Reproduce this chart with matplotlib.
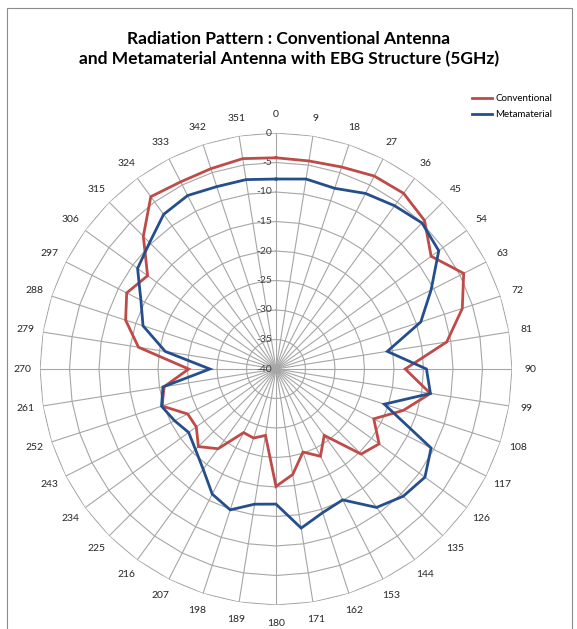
import numpy as np
import matplotlib
matplotlib.use("Agg")
import matplotlib.pyplot as plt
from matplotlib.lines import Line2D
from matplotlib.patches import Rectangle

# ---- data ----
angles_deg = list(range(0, 360, 9))
angle_labels = [str(a) for a in angles_deg]
conventional = [-4.2, -4.3, -4.0, -3.3, -3.2, -4.4, -7.5, -4.3, -6.8, -10.7,
                -18.1, -13.5, -17.3, -21.4, -18.4, -19.6, -26.1, -23.4, -25.2, -21.9,
                -20.1, -28.6, -27.7, -27.9, -23.3, -21.4, -23.3, -23.2, -19.7, -20.8,
                -25.2, -16.4, -13.2, -11.6, -13.1, -8.2, -3.9, -4.4, -4.3, -3.9]
metamaterial = [-7.8, -7.4, -7.8, -6.6, -5.8, -5.0, -5.9, -10.5, -14.2, -20.9,
                -14.5, -13.5, -20.7, -10.5, -8.8, -9.5, -11.0, -15.1, -14.4, -12.7,
                -17.1, -16.8, -14.9, -16.2, -19.0, -20.7, -21.7, -20.7, -19.6, -20.6,
                -28.8, -21.0, -16.3, -14.3, -11.0, -9.7, -7.6, -7.0, -7.5, -7.5]
r_ticks = [0, -5, -10, -15, -20, -25, -30, -35, -40]
series_names = ["Conventional", "Metamaterial"]
title = "Radiation Pattern : Conventional Antenna\nand Metamaterial Antenna with EBG Structure (5GHz)"

W, H = 577, 629
fig = plt.figure(figsize=(W / 100, H / 100), dpi=100)

FONT = ["Lato", "DejaVu Sans"]
grid_c = "#A6A6A6"
red = "#BE4B48"
blue = "#254E8C"

# chart border
fig.add_artist(Rectangle((7 / W, -0.02), (572 - 7) / W, (1 - 8 / H) + 0.02,
                         transform=fig.transFigure, fill=False, ec="#8C8C8C", lw=0.8))

cx, cy, R = 276, 369, 236
ax = fig.add_axes([(cx - R) / W, (H - cy - R) / H, 2 * R / W, 2 * R / H], projection="polar")
ax.set_theta_zero_location("N")
ax.set_theta_direction(-1)
ax.set_ylim(-40, 0)
ax.grid(False)
ax.spines["polar"].set_visible(False)
ax.set_yticks([])
ax.set_xticks(np.deg2rad(angles_deg))
ax.set_xticklabels(angle_labels, fontsize=7.5, family=FONT, color="#262626")
ax.tick_params(axis="x", pad=6, length=0)
ax.patch.set_alpha(0)

th = np.deg2rad(angles_deg)
th_closed = np.append(th, th[0])
# polygon rings
for rv in r_ticks[:-1]:
    ax.plot(th_closed, [rv] * len(th_closed), color=grid_c, lw=0.8, zorder=1)
# spokes
for t in th:
    ax.plot([t, t], [-40, 0], color=grid_c, lw=0.8, zorder=1)

# radial labels
for rv in r_ticks:
    ax.annotate(str(rv), xy=(0, rv), xytext=(-3, 0), textcoords="offset points",
                ha="right", va="center", fontsize=7.5, family=FONT, color="#404040", zorder=3)

conv_closed = conventional + conventional[:1]
meta_closed = metamaterial + metamaterial[:1]
ax.plot(th_closed, conv_closed, color=red, lw=2.0, zorder=4, solid_joinstyle="miter")
ax.plot(th_closed, meta_closed, color=blue, lw=2.0, zorder=4, solid_joinstyle="miter")

handles = [Line2D([], [], color=red, lw=2.0), Line2D([], [], color=blue, lw=2.0)]
fig.legend(handles, series_names, loc="upper left", bbox_to_anchor=(472 / W, 1 - 94 / H),
           frameon=False, fontsize=7, prop={"family": FONT, "size": 7},
           handlelength=2.1, handletextpad=0.3, labelspacing=0.75, borderpad=0, borderaxespad=0)

fig.text(289 / W, 1 - 49 / H, title, ha="center", va="center", fontsize=12.5,
         fontweight="bold", family=FONT, color="#000000", linespacing=1.25)

fig.savefig("out.png", dpi=100)
